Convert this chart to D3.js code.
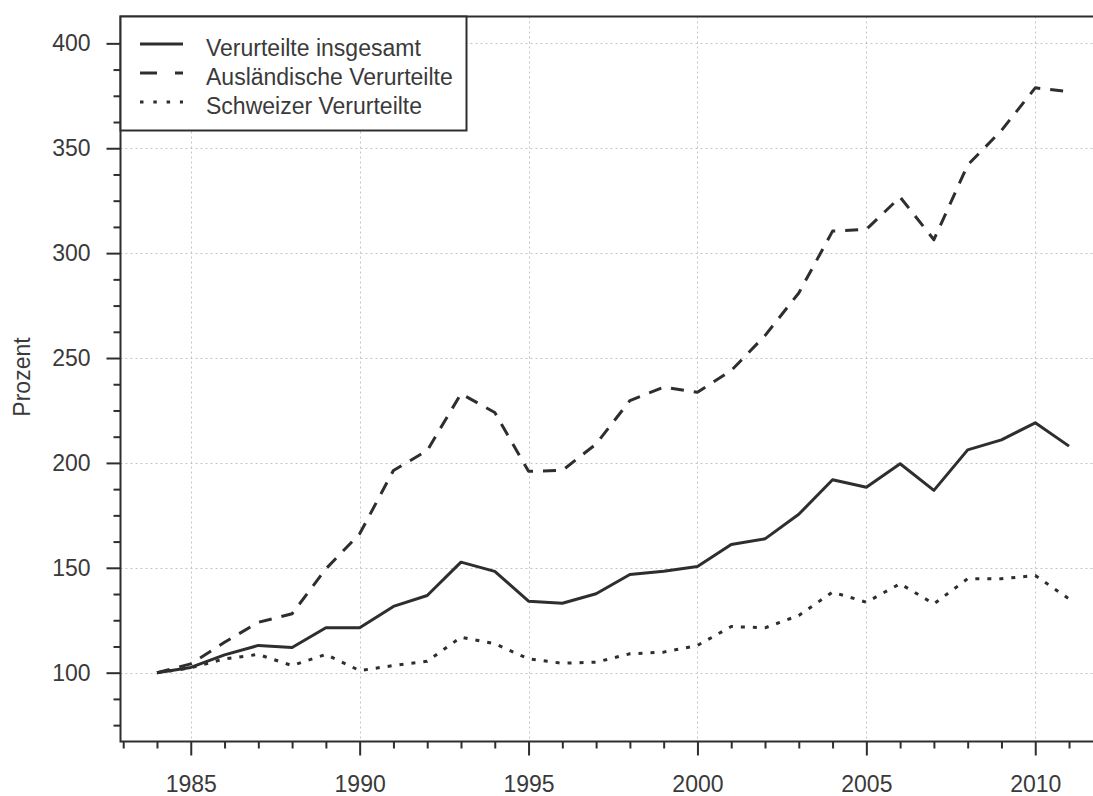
<!DOCTYPE html>
<html>
<head>
<meta charset="utf-8">
<script src="https://cdn.jsdelivr.net/npm/d3@7/dist/d3.min.js"></script>
<style>
  html, body { margin: 0; padding: 0; background: #fff; }
  svg { display: block; }
  text { font-family: "Liberation Sans", Arial, sans-serif; fill: #3a3a3a; }
</style>
</head>
<body>
<svg id="chart" width="1093" height="796"></svg>
<script>
// ---- data ----
const years = [1984,1985,1986,1987,1988,1989,1990,1991,1992,1993,1994,1995,1996,1997,1998,1999,2000,2001,2002,2003,2004,2005,2006,2007,2008,2009,2010,2011];
const total   = [100,102.5,108.5,113,112,121.4,121.4,131.6,136.8,152.7,148.3,134.1,133.1,137.6,146.8,148.4,150.6,161.1,163.8,175.5,192,188.4,199.6,186.9,206.2,211,219.1,208];
const foreign = [100,104.2,114.5,124,128.1,149.5,166.2,196.4,205.9,233,224,196,196.4,209,229.7,236.1,233.7,244,260.7,281,310.5,311.3,326.7,306.4,342,358.5,378.8,377];
const swiss   = [100,102.3,106.6,108.7,103.4,108.7,101,103.4,105.5,116.9,113.8,106.6,104.5,105,109,109.8,113,122,121.4,127.3,138.4,133.6,142.4,132.8,144.8,144.8,146.3,135.2];
const seriesNames = ["Verurteilte insgesamt", "Ausländische Verurteilte", "Schweizer Verurteilte"];
const xTickLabels = [1985, 1990, 1995, 2000, 2005, 2010];
const yTickLabels = [100, 150, 200, 250, 300, 350, 400];
const yAxisTitle = "Prozent";

// ---- layout ----
const svg = d3.select("#chart");
const L = 120.5, R = 1105.5, T = 16.5, B = 741.5;
const x = d3.scaleLinear().domain([1982.92, 2012.08]).range([L, R]);
const y = d3.scaleLinear().domain([67.2, 412.8]).range([B, T]);
const ink = "#2e2e2e";
const fs = 23;

// grid
const grid = svg.append("g").attr("stroke", "#c4c4c4").attr("stroke-width", 1).attr("stroke-dasharray", "2,3");
grid.selectAll("line.v").data(xTickLabels).enter().append("line")
  .attr("x1", d => Math.round(x(d)) + 0.5).attr("x2", d => Math.round(x(d)) + 0.5)
  .attr("y1", T).attr("y2", B);
grid.selectAll("line.h").data(yTickLabels).enter().append("line")
  .attr("y1", d => Math.round(y(d)) + 0.5).attr("y2", d => Math.round(y(d)) + 0.5)
  .attr("x1", L).attr("x2", R);

// axes
const minorX = d3.range(1983, 2012).filter(v => !xTickLabels.includes(v));
const minorY = d3.range(75, 400, 12.5).filter(v => !yTickLabels.includes(v));

function styleAxis(g) {
  g.select(".domain").remove();
  g.selectAll(".tick line").attr("stroke", ink).attr("stroke-width", 2);
  g.selectAll(".tick text").attr("font-size", fs).attr("fill", "#3a3a3a")
    .attr("font-family", '"Liberation Sans", Arial, sans-serif');
}
svg.append("g").attr("transform", `translate(0,${B})`)
  .call(d3.axisBottom(x).tickValues(minorX).tickSize(7).tickFormat(""))
  .call(styleAxis);
svg.append("g").attr("transform", `translate(0,${B})`)
  .call(d3.axisBottom(x).tickValues(xTickLabels).tickSize(14).tickPadding(20).tickFormat(d3.format("d")))
  .call(styleAxis);
svg.append("g").attr("transform", `translate(${L},0)`)
  .call(d3.axisLeft(y).tickValues(minorY).tickSize(7).tickFormat(""))
  .call(styleAxis);
svg.append("g").attr("transform", `translate(${L},0)`)
  .call(d3.axisLeft(y).tickValues(yTickLabels).tickSize(14).tickPadding(16).tickFormat(d3.format("d")))
  .call(styleAxis);

// plot box
svg.append("rect").attr("x", L).attr("y", T).attr("width", R - L).attr("height", B - T)
  .attr("fill", "none").attr("stroke", ink).attr("stroke-width", 2);

// y title
svg.append("text").attr("transform", `translate(30,377) rotate(-90)`)
  .attr("text-anchor", "middle").attr("font-size", fs).text(yAxisTitle);

// lines
const line = d3.line().x((d, i) => x(years[i])).y(d => y(d));
const styles = [
  { data: total,   dash: null },
  { data: foreign, dash: "13,10" },
  { data: swiss,   dash: "4,8" }
];
styles.forEach(s => {
  svg.append("path").datum(s.data).attr("d", line)
    .attr("fill", "none").attr("stroke", ink).attr("stroke-width", 3)
    .attr("stroke-linejoin", "round")
    .attr("stroke-dasharray", s.dash);
});

// legend
const lg = svg.append("g");
lg.append("rect").attr("x", L).attr("y", T).attr("width", 346).attr("height", 114)
  .attr("fill", "#fff").attr("stroke", ink).attr("stroke-width", 2);
const legDash = [null, "17,18", "3.5,9.8"];
const rowY = [44, 73, 102];
seriesNames.forEach((name, i) => {
  lg.append("line").attr("x1", 140).attr("x2", 183).attr("y1", rowY[i]).attr("y2", rowY[i])
    .attr("stroke", ink).attr("stroke-width", 3).attr("stroke-dasharray", legDash[i]);
  lg.append("text").attr("x", 206).attr("y", rowY[i] + 12).attr("font-size", fs).text(name);
});
</script>
</body>
</html>
